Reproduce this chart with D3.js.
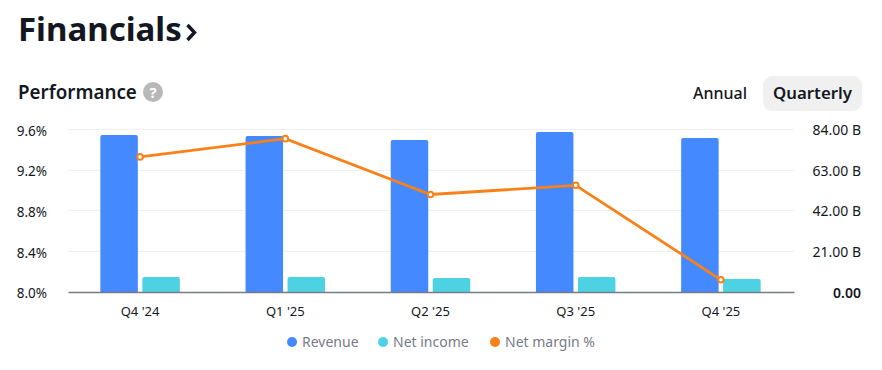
<!DOCTYPE html>
<html><head><meta charset="utf-8">
<script src="https://cdn.jsdelivr.net/npm/d3@7"></script>
<style>
html,body{margin:0;padding:0;background:#fff;overflow:hidden}
text{font-family:"Noto Sans",sans-serif;fill:#131722}
</style></head><body><svg id="c" width="882" height="370"></svg>
<script>
const categories=["Q4 '24","Q1 '25","Q2 '25","Q3 '25","Q4 '25"];
const revenue=[81.2,80.6,78.6,82.7,79.6];
const netIncome=[7.75,7.75,7.2,7.75,6.7];
const netMargin=[9.33,9.51,8.96,9.05,8.12];
const leftTicks=[8.0,8.4,8.8,9.2,9.6];
const rightTicks=[0,21,42,63,84];
const legendItems=["Revenue","Net income","Net margin %"];
const colors={rev:"#4489ff",ni:"#4dd2e4",nm:"#f98118"};

const svg=d3.select("#c");
const L=68,R=794,T=129.5,B=292;
const x=d3.scaleBand().domain(categories).range([L,R]);
const yL=d3.scaleLinear().domain([8,9.6]).range([B,T]);
const yR=d3.scaleLinear().domain([0,84]).range([B,T]);
const barW=37.5,gap=4.5;

// Header
svg.append("text").attr("x",18).attr("y",41).attr("font-size",33).attr("font-weight",700).text("Financials");
svg.append("path").attr("d",d3.line()([[187.5,25],[194.5,32.5],[187.5,40]])).attr("fill","none").attr("stroke","#131722").attr("stroke-width",3.4);
svg.append("text").attr("x",18).attr("y",99).attr("font-size",18.8).attr("font-weight",600).text("Performance");
svg.append("circle").attr("cx",153).attr("cy",92).attr("r",10).attr("fill","#b8b8b8");
svg.append("text").attr("x",153).attr("y",97.5).attr("text-anchor","middle").attr("font-size",15).attr("font-weight",700).style("fill","#fff").text("?");
svg.append("text").attr("x",720).attr("y",99).attr("text-anchor","middle").attr("font-size",16).attr("font-weight",500).text("Annual");
svg.append("rect").attr("x",763).attr("y",76).attr("width",99).attr("height",35).attr("rx",9).attr("fill","#f0f0f0");
svg.append("text").attr("x",812.5).attr("y",99).attr("text-anchor","middle").attr("font-size",16.8).attr("font-weight",600).text("Quarterly");

// Grid
svg.append("g").selectAll("line").data(leftTicks.slice(1)).join("line")
  .attr("x1",L).attr("x2",R).attr("y1",d=>Math.floor(yL(d))+.5).attr("y2",d=>Math.floor(yL(d))+.5)
  .attr("stroke","#f0f0f3");

// Bars
const topRound=(x0,y0,w,h,r)=>{const p=d3.path();p.moveTo(x0,y0+h);p.lineTo(x0,y0+r);p.arcTo(x0,y0,x0+r,y0,r);p.lineTo(x0+w-r,y0);p.arcTo(x0+w,y0,x0+w,y0+r,r);p.lineTo(x0+w,y0+h);p.closePath();return p.toString();};
const cx=c=>x(c)+x.bandwidth()/2-0.5;
svg.append("g").selectAll("path").data(categories).join("path")
  .attr("fill",colors.rev)
  .attr("d",(c,i)=>topRound(cx(c)-gap/2-barW,yR(revenue[i]),barW,B-yR(revenue[i]),2));
svg.append("g").selectAll("path").data(categories).join("path")
  .attr("fill",colors.ni)
  .attr("d",(c,i)=>topRound(cx(c)+gap/2,yR(netIncome[i]),barW,B-yR(netIncome[i]),2));

// Axes
const gx=svg.append("g").attr("transform",`translate(0,${B})`).call(d3.axisBottom(x).tickSize(0).tickPadding(15));
gx.select(".domain").attr("stroke","#787b86").attr("stroke-width",1.5);
gx.selectAll("text").attr("font-size",13).style("font-family",'"Noto Sans",sans-serif').attr("dx",-0.5);

const gl=svg.append("g").attr("transform",`translate(${L},0)`).call(d3.axisLeft(yL).tickValues(leftTicks).tickFormat(d=>d.toFixed(1)+"%").tickSize(0).tickPadding(21));
gl.select(".domain").remove();
gl.selectAll("text").attr("font-size",13.5).style("font-family",'"Noto Sans",sans-serif').attr("dy",".43em");

const gr=svg.append("g").attr("transform",`translate(${R},0)`).call(d3.axisRight(yR).tickValues(rightTicks).tickFormat(d=>d===0?"0.00":d.toFixed(2)+" B").tickSize(0).tickPadding(0));
gr.select(".domain").remove();
gr.selectAll("text").attr("x",67).attr("text-anchor","end").attr("font-size",14).attr("font-weight",d=>d===0?600:400).style("font-family",'"Noto Sans",sans-serif').attr("dy",".36em");

// Line
const line=d3.line().x((d,i)=>cx(categories[i])).y(d=>yL(d));
svg.append("path").datum(netMargin).attr("d",line).attr("fill","none").attr("stroke",colors.nm).attr("stroke-width",2.8);
svg.append("g").selectAll("circle").data(netMargin).join("circle")
  .attr("cx",(d,i)=>cx(categories[i])).attr("cy",d=>yL(d)).attr("r",2.8)
  .attr("fill","#fff").attr("stroke",colors.nm).attr("stroke-width",2);

// Legend
const lg=[[292,302,colors.rev],[383,393,colors.ni],[495,505,colors.nm]];
legendItems.forEach((t,i)=>{
  svg.append("circle").attr("cx",lg[i][0]).attr("cy",342).attr("r",5).attr("fill",lg[i][2]);
  svg.append("text").attr("x",lg[i][1]).attr("y",347).attr("font-size",14).style("fill","#787b86").text(t);
});
</script></body></html>
